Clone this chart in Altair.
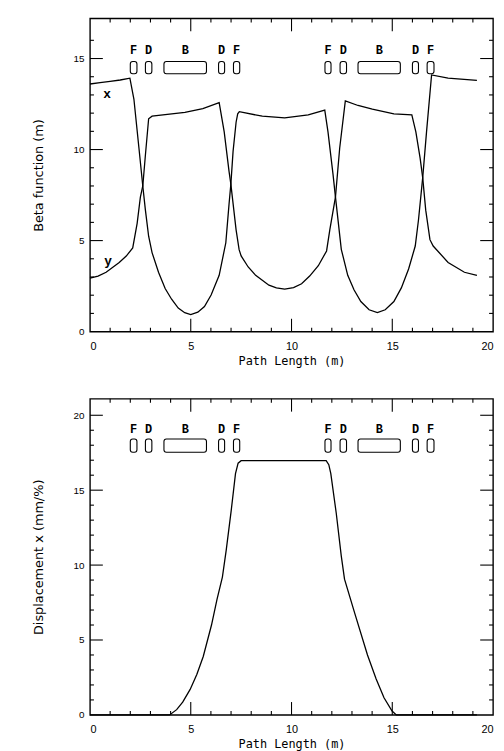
import altair as alt
import pandas as pd

# ---------------- data ----------------
# Beta function, horizontal (x) plane
sx = [0.0, 0.5, 1.0, 1.5, 1.98, 2.18, 2.43, 2.62, 2.75, 2.91, 3.08, 3.40, 3.73, 4.05, 4.38, 4.70,
      5.00, 5.35, 5.68, 6.01, 6.41, 6.74, 6.90, 6.99, 7.10, 7.25, 7.33, 7.41, 8.55, 9.66, 10.83,
      11.65, 11.81, 12.06, 12.18, 12.47, 12.79, 13.10, 13.44, 13.85, 14.26, 14.65, 15.08, 15.45,
      15.81, 16.14, 16.30, 16.51, 16.70, 16.95, 17.77, 19.20]
bx = [13.60, 13.67, 13.74, 13.82, 13.92, 12.76, 10.07, 8.00, 6.67, 5.24, 4.34, 3.26, 2.37, 1.78, 1.29, 1.04,
      0.94, 1.07, 1.38, 2.01, 3.09, 4.88, 7.00, 8.10, 9.90, 11.50, 11.96, 12.08, 11.83, 11.74, 11.90,
      12.17, 10.97, 8.64, 7.40, 4.52, 3.09, 2.30, 1.65, 1.20, 1.04, 1.20, 1.65, 2.40,
      3.44, 4.70, 6.13, 8.46, 10.97, 14.10, 13.92, 13.80]
# Beta function, vertical (y) plane
sy = [0.0, 0.4, 0.8, 1.45, 1.80, 2.12, 2.34, 2.50, 2.62, 2.75, 2.91, 3.08, 4.71, 5.60, 6.41, 6.66,
      6.90, 6.99, 7.25, 7.40, 7.50, 7.85, 8.22, 8.88, 9.25, 9.66, 10.10, 10.50, 10.90, 11.33, 11.74,
      11.90, 12.18, 12.39, 12.67, 13.30, 14.01, 15.08, 15.97, 16.17, 16.38, 16.51, 16.66, 16.87,
      17.03, 17.77, 18.58, 19.20]
by = [2.94, 3.05, 3.26, 3.80, 4.15, 4.60, 5.95, 7.39, 8.00, 9.70, 11.69, 11.83, 12.04, 12.25, 12.58, 10.97,
      8.80, 8.10, 5.59, 4.50, 4.16, 3.55, 3.09, 2.55, 2.40, 2.33, 2.42, 2.63, 3.05, 3.62, 4.43,
      5.59, 7.39, 10.07, 12.67, 12.42, 12.22, 11.96, 11.90, 10.97, 9.54, 8.46, 6.67, 5.05,
      4.70, 3.80, 3.26, 3.09]
# Dispersion (displacement per momentum deviation)
sd = [0.0, 3.95, 4.30, 4.60, 4.97, 5.30, 5.62, 6.03, 6.30, 6.57, 6.76, 7.01, 7.22, 7.35, 7.50,
      11.72, 11.85, 11.95, 12.22, 12.47, 12.63, 13.12, 13.77, 14.20, 14.59, 14.99, 15.20, 19.20]
dd = [0.0, 0.0, 0.35, 0.85, 1.70, 2.70, 3.90, 6.00, 7.70, 9.20, 11.00, 13.67, 16.10, 16.80, 16.97,
      16.97, 16.70, 16.10, 13.46, 10.60, 9.06, 6.86, 4.00, 2.40, 1.14, 0.26, 0.00, 0.00]

# Lattice elements (F/D quadrupoles, B bends)
elem_name = ["F", "D", "B", "D", "F", "F", "D", "B", "D", "F"]
elem_start = [2.00, 2.75, 3.67, 6.38, 7.12, 11.66, 12.41, 13.30, 16.00, 16.73]
elem_end = [2.33, 3.07, 5.78, 6.68, 7.43, 11.96, 12.73, 15.40, 16.30, 17.07]

x_ticks = [0, 5, 10, 15, 20]
x_major = [5, 10, 15]
x_minor = [1, 2, 3, 4, 6, 7, 8, 9, 11, 12, 13, 14, 16, 17, 18, 19]
top_y_ticks = [0, 5, 10, 15]
top_y_major = [5, 10, 15]
top_y_minor = [1, 2, 3, 4, 6, 7, 8, 9, 11, 12, 13, 14, 16]
bot_y_ticks = [0, 5, 10, 15, 20]
bot_y_major = [5, 10, 15, 20]
bot_y_minor = [1, 2, 3, 4, 6, 7, 8, 9, 11, 12, 13, 14, 16, 17, 18, 19]

# ---------------- chart ----------------
W = 408
H_TOP = 317
H_BOT = 320
X_MAX = 20
TOP_MAX = 17.2
BOT_MAX = 21.1
MAJ = 13    # tick length, px
MIN = 4

xs = alt.Scale(domain=[0, X_MAX], nice=False, zero=False)
XAX = alt.Axis(values=x_ticks, title="Path Length (m)", format="d")

elems = pd.DataFrame({"name": elem_name, "s0": elem_start, "s1": elem_end})
elems["mid"] = (elems["s0"] + elems["s1"]) / 2


def tick_points(y_major, y_minor, H, ymax):
    """Each inward frame tick as a 2-point polyline (px lengths -> data units)."""
    ux = X_MAX / W
    uy = ymax / H
    rows = []
    k = 0
    for vals, ln in ((x_major, MAJ), (x_minor, MIN)):
        for t in vals:
            rows += [(k, t, 0.0), (k, t, ln * uy)]
            k += 1
            rows += [(k, t, ymax), (k, t, ymax - ln * uy)]
            k += 1
    for vals, ln in ((y_major, MAJ), (y_minor, MIN)):
        for t in vals:
            rows += [(k, 0.0, t), (k, ln * ux, t)]
            k += 1
            rows += [(k, X_MAX, t), (k, X_MAX - ln * ux, t)]
            k += 1
    df = pd.DataFrame(rows, columns=["tick", "px", "py"])
    df["o"] = range(len(df))
    return df


def ticks(ys, yax, y_major, y_minor, H, ymax):
    return alt.Chart(tick_points(y_major, y_minor, H, ymax)).mark_line(
        color="black", strokeWidth=1.1
    ).encode(
        x=alt.X("px:Q", scale=xs, axis=XAX),
        y=alt.Y("py:Q", scale=ys, axis=yax),
        detail="tick:N",
        order="o:Q",
    )


def elements(ys, yax, y0, y1, ylab):
    boxes = alt.Chart(elems).mark_rect(
        cornerRadius=2.5, fill="white", stroke="black", strokeWidth=1.1
    ).encode(
        x=alt.X("s0:Q", scale=xs, axis=XAX), x2="s1:Q",
        y=alt.datum(y0, scale=ys, axis=yax), y2=alt.datum(y1),
    )
    labels = alt.Chart(elems).mark_text(
        font="Liberation Mono", fontWeight="bold", fontSize=12, color="black"
    ).encode(
        x=alt.X("mid:Q", scale=xs, axis=XAX),
        y=alt.datum(ylab, scale=ys, axis=yax),
        text="name:N",
    )
    return [boxes, labels]


# ---- top panel: beta functions ----
ys_top = alt.Scale(domain=[0, TOP_MAX], nice=False, zero=False)
yax_top = alt.Axis(values=top_y_ticks, title="Beta function (m)", format="d")
beta = pd.concat([
    pd.DataFrame({"s": sx, "v": bx, "plane": "x"}),
    pd.DataFrame({"s": sy, "v": by, "plane": "y"}),
])
beta_lines = alt.Chart(beta).mark_line(color="black", strokeWidth=1.3).encode(
    x=alt.X("s:Q", scale=xs, axis=XAX),
    y=alt.Y("v:Q", scale=ys_top, axis=yax_top),
    detail="plane:N",
)
plane_labels = alt.Chart(pd.DataFrame({"s": [0.85, 0.9], "v": [13.06, 3.9], "t": ["x", "y"]})).mark_text(
    font="Liberation Mono", fontWeight="bold", fontSize=13, color="black"
).encode(
    x=alt.X("s:Q", scale=xs, axis=XAX),
    y=alt.Y("v:Q", scale=ys_top, axis=yax_top),
    text="t:N",
)
top = alt.layer(
    beta_lines, plane_labels,
    *elements(ys_top, yax_top, 14.16, 14.84, 15.45),
    ticks(ys_top, yax_top, top_y_major, top_y_minor, H_TOP, TOP_MAX),
).properties(width=W, height=H_TOP)

# ---- bottom panel: dispersion ----
ys_bot = alt.Scale(domain=[0, BOT_MAX], nice=False, zero=False)
yax_bot = alt.Axis(values=bot_y_ticks, title="Displacement x (mm/%)", format="d")
disp = pd.DataFrame({"s": sd, "v": dd})
disp_line = alt.Chart(disp).mark_line(color="black", strokeWidth=1.3).encode(
    x=alt.X("s:Q", scale=xs, axis=XAX),
    y=alt.Y("v:Q", scale=ys_bot, axis=yax_bot),
)
bottom = alt.layer(
    disp_line,
    *elements(ys_bot, yax_bot, 17.53, 18.42, 19.1),
    ticks(ys_bot, yax_bot, bot_y_major, bot_y_minor, H_BOT, BOT_MAX),
).properties(width=W, height=H_BOT)

chart = alt.vconcat(top, bottom, spacing=29).properties(
    padding={"left": 24, "top": 3, "right": 0, "bottom": 0},
    background="white",
).configure_view(
    stroke="black", strokeWidth=1.4
).configure_axis(
    grid=False, ticks=False, domain=False,
    labelFont="Liberation Sans", labelFontSize=11, labelColor="black",
    titleFont="DejaVu Sans", titleFontSize=13, titleFontWeight="normal", titleColor="black",
).configure_axisY(
    titlePadding=28, labelFontSize=10, labelPadding=6,
).configure_axisX(
    titleFont="DejaVu Sans Mono", titleFontSize=12, labelPadding=9, titlePadding=4,
)

chart.save("out.html", embed_options={"renderer": "svg", "actions": False})
